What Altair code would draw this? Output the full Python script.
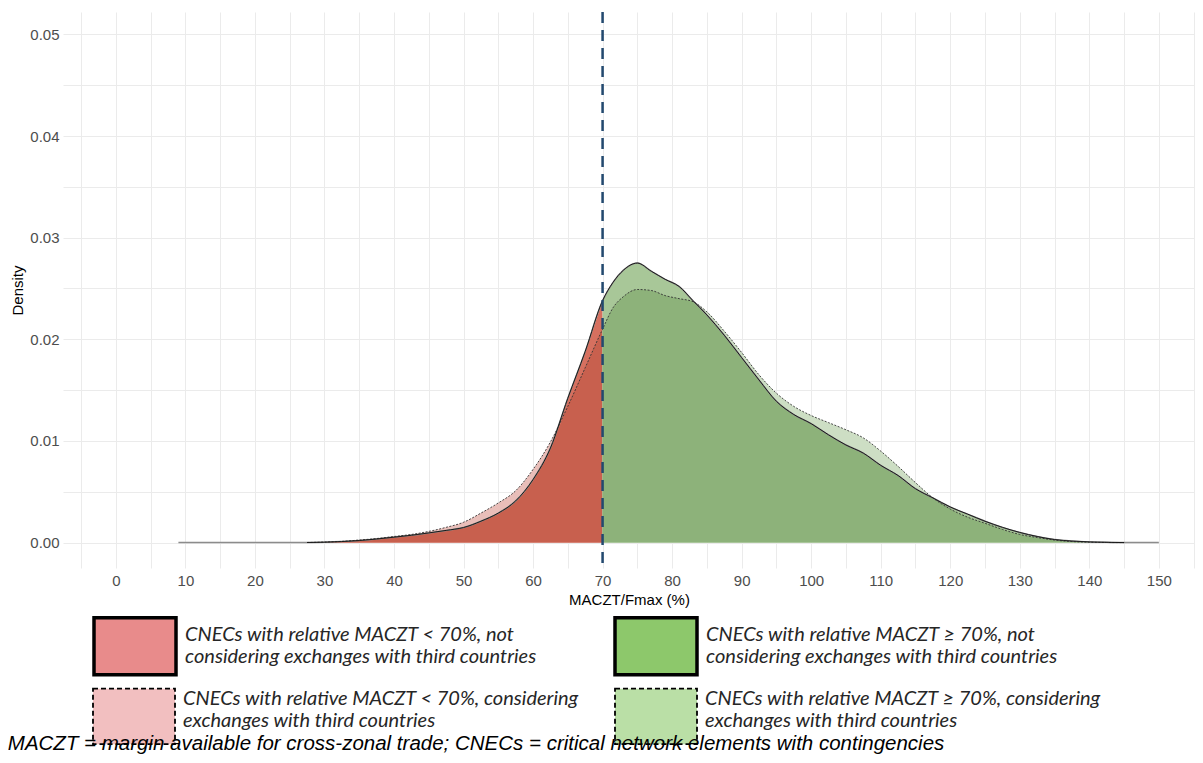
import altair as alt
import pandas as pd

# ---- data (density curves) ----
x_vals = [9, 20, 25, 27.5, 30, 32.5, 35, 37.5, 40, 42.5, 45, 47.5, 50, 52.5, 55, 57.5,
          60, 62.5, 65, 67.5, 70, 71.5, 73, 75, 77, 79, 81, 83, 85, 87.5, 90, 92.5,
          95, 97.5, 100, 102.5, 105, 107.5, 110, 112.5, 115, 117.5, 120, 122.5, 125,
          127.5, 130, 132.5, 135, 137.5, 140, 142.5, 145, 150]
# not considering exchanges with third countries (solid outline)
a_vals = [0, 0, 0, 0.00001, 0.00004, 0.0001, 0.0002, 0.00035, 0.00053, 0.00072, 0.00095,
          0.0012, 0.00148, 0.0021, 0.0029, 0.0041, 0.0062, 0.0093, 0.0142, 0.0188, 0.0238,
          0.0256, 0.0268, 0.0275, 0.0267, 0.0259, 0.0252, 0.0238, 0.0224, 0.0204, 0.0182,
          0.0160, 0.0139, 0.0126, 0.0117, 0.0106, 0.0096, 0.0088, 0.0076, 0.0066, 0.0053,
          0.0044, 0.0035, 0.0028, 0.0021, 0.0015, 0.0010, 0.0006, 0.0003, 0.00015, 0.00007,
          0.00003, 0, 0]
# considering exchanges with third countries (dotted outline)
b_vals = [0, 0, 0, 0.00001, 0.00005, 0.00012, 0.00025, 0.0004, 0.0006, 0.0008, 0.0011,
          0.0015, 0.0020, 0.0029, 0.0039, 0.0051, 0.0072, 0.0099, 0.0134, 0.0172, 0.0210,
          0.0231, 0.0242, 0.0249, 0.0248, 0.0243, 0.0240, 0.0237, 0.0227, 0.0208, 0.0187,
          0.0165, 0.0147, 0.0134, 0.0125, 0.0118, 0.0111, 0.0103, 0.0090, 0.0075, 0.0059,
          0.0044, 0.0033, 0.0025, 0.0019, 0.0013, 0.0008, 0.0005, 0.00025, 0.0001, 0.00004,
          0.00001, 0, 0]
threshold = [70]

x_grid_values = [-5, 0, 5, 10, 15, 20, 25, 30, 35, 40, 45, 50, 55, 60, 65, 70, 75, 80, 85,
                 90, 95, 100, 105, 110, 115, 120, 125, 130, 135, 140, 145, 150, 155]
y_grid_values = [0, 0.005, 0.01, 0.015, 0.02, 0.025, 0.03, 0.035, 0.04, 0.045, 0.05]

# legend rows: not considering (solid boxes) / considering (dashed boxes)
legend_row1 = [
    "CNECs with relative MACZT < 70%, not|considering exchanges with third countries",
    "CNECs with relative MACZT \u2265 70%, not|considering exchanges with third countries",
]
legend_row1_fills = ["#E88B8B", "#8DC86B"]
legend_row2 = [
    "CNECs with relative MACZT < 70%, considering|exchanges with third countries",
    "CNECs with relative MACZT \u2265 70%, considering|exchanges with third countries",
]
legend_row2_fills = ["#F2BFC0", "#BADFA6"]
footnote = ("MACZT = margin available for cross-zonal trade; "
            "CNECs = critical network elements with contingencies")

df = pd.DataFrame({"x": x_vals, "a": a_vals, "b": b_vals})
thr = threshold[0]

x_scale = alt.Scale(domain=[-7.6, 155.2], nice=False, zero=False)
y_scale = alt.Scale(domain=[-0.0025, 0.0522], nice=False, zero=False)

x_axis = alt.Axis(values=x_grid_values, title="MACZT/Fmax (%)",
                  labelExpr="datum.value % 10 == 0 && datum.value >= 0 && datum.value <= 150 ? datum.label : ''",
                  ticks=False, domain=False, labelPadding=5, titlePadding=4,
                  gridColor="#EBEBEB", labelFlush=False)
y_axis = alt.Axis(values=y_grid_values, title="Density", format=".2f",
                  labelExpr="round(datum.value * 200) % 2 == 0 ? datum.label : ''",
                  ticks=False, domain=False, labelPadding=4, titlePadding=4,
                  gridColor="#EBEBEB")


def X():
    return alt.X("x:Q", scale=x_scale, axis=x_axis, title="MACZT/Fmax (%)")


def Y(field):
    return alt.Y(f"{field}:Q", scale=y_scale, axis=y_axis, title="Density")


base = alt.Chart(df)


def side(filter_expr, colors):
    b = base.transform_filter(filter_expr)
    l1 = b.mark_area(color=colors[0], interpolate="monotone").encode(x=X(), y=Y("b"))
    l2 = b.mark_area(color=colors[1], interpolate="monotone").encode(x=X(), y=Y("a"))
    l3 = (b.transform_calculate(m="min(datum.a, datum.b)")
          .mark_area(color=colors[2], interpolate="monotone").encode(x=X(), y=Y("m")))
    return [l1, l2, l3]


red_layers = side(f"datum.x <= {thr}", ["#E9BEB9", "#D6705F", "#C8604E"])
green_layers = side(f"datum.x >= {thr}", ["#CDDEC4", "#A8C798", "#8DB27A"])

gray_line = base.mark_line(color="#8C8C8C", strokeWidth=1.5, interpolate="monotone").encode(
    x=X(), y=Y("a"))
outline_base = base.transform_filter("datum.x >= 27.5 && datum.x <= 145")
line_b = outline_base.mark_line(color="#333333", strokeWidth=0.9, strokeDash=[2, 1.5],
                                interpolate="monotone").encode(x=X(), y=Y("b"))
line_a = outline_base.mark_line(color="#1A1A1A", strokeWidth=1.0,
                                interpolate="monotone").encode(x=X(), y=Y("a"))

rule = alt.Chart(pd.DataFrame({"x": threshold})).mark_rule(
    color="#23496F", strokeWidth=2.5, strokeDash=[11, 7]).encode(x=X())

common_leg = dict(orient="none", legendX=29, columns=2, title=None, padding=0,
                  labelFont="Lato", labelFontStyle="italic", labelFontSize=20,
                  labelColor="#262626", labelLimit=700, labelOffset=7,
                  labelBaseline="line-bottom",
                  labelExpr="split(datum.label, '|')",
                  symbolSize=6724, symbolStrokeColor="black", symbolOpacity=1)

leg1 = alt.Legend(legendY=591, columnPadding=71, symbolStrokeWidth=3.5,
                  symbolType="M-1,-0.695H1V0.695H-1Z", **common_leg)
leg2 = alt.Legend(legendY=656, columnPadding=32, symbolStrokeWidth=1.8, symbolDash=[5, 3],
                  symbolType="M-1,-0.524H1V0.83H-1Z", **common_leg)


def legend_layer(labels, fills, field, leg, sw, dash):
    return alt.Chart(pd.DataFrame({field: labels})).transform_filter("false").mark_point(
        filled=True, opacity=1, strokeWidth=sw, strokeDash=dash).encode(
        fill=alt.Fill(f"{field}:N", scale=alt.Scale(domain=labels, range=fills), legend=leg),
        stroke=alt.Stroke(f"{field}:N", scale=alt.Scale(domain=labels, range=["black"] * len(labels)),
                          legend=leg),
    )


legend1 = legend_layer(legend_row1, legend_row1_fills, "row1", leg1, 3.5, [1, 0])
legend2 = legend_layer(legend_row2, legend_row2_fills, "row2", leg2, 1.8, [5, 3])

chart = alt.layer(
    *red_layers, *green_layers, gray_line, line_b, line_a, rule, legend1, legend2
).resolve_scale(fill="independent", stroke="independent").properties(
    width=1132, height=556,
    padding={"left": 55, "top": 4, "right": 0, "bottom": 187},
    autosize=alt.AutoSizeParams(type="none"),
    background="white",
    title=alt.TitleParams(text=footnote, orient="bottom", anchor="start", frame="bounds",
                          font="Liberation Sans", fontSize=20.5, fontStyle="italic",
                          fontWeight="normal", color="black", offset=-14, dx=-3),
).configure_view(stroke=None).configure_axis(
    labelFont="Liberation Sans", labelFontSize=15, labelColor="#4D4D4D",
    titleFont="Liberation Sans", titleFontSize=15, titleColor="black",
    titleFontWeight="normal",
)

chart.save("out.html", embed_options={"renderer": "svg", "actions": False})
